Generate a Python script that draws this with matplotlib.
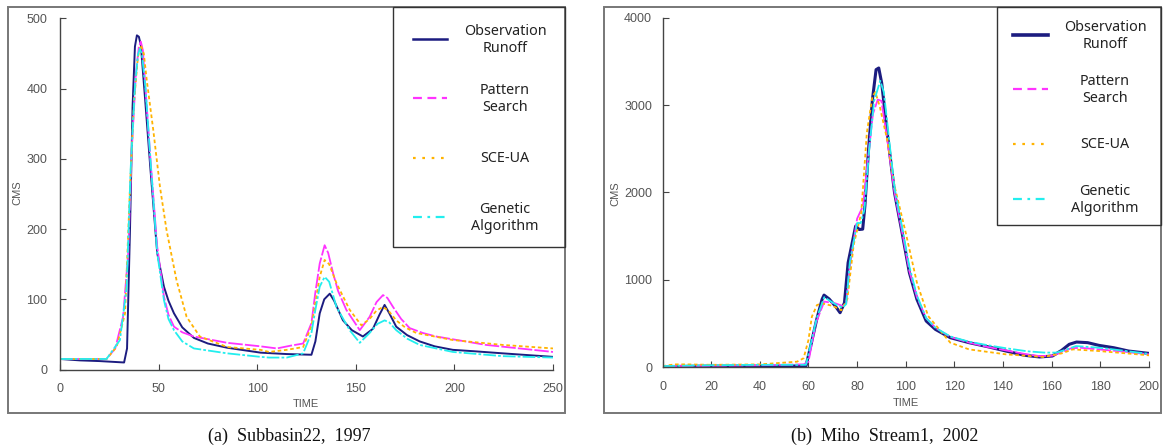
import matplotlib
matplotlib.use("Agg")
import matplotlib.pyplot as plt
import matplotlib.transforms as mtransforms
from matplotlib.patches import Rectangle
from matplotlib.lines import Line2D

W, H = 1163, 448

# ---- (a) Subbasin22, 1997 ----
obs_t_a = [0, 10, 20, 32.5, 34, 35.5, 36.8, 38, 39, 40, 41, 43.3, 45.9, 49.3, 52.7, 55, 57.8, 62, 67.9, 75, 84.8,
           101.7, 115, 127.5, 129.5, 131.7, 134, 136.8, 139, 143.5, 148, 153.6, 158.7, 162, 164.6, 167, 170.5,
           176, 182.4, 190, 199.2, 210, 224.6, 250]
obs_v_a = [15, 13, 12, 10, 30, 200, 374, 460, 476, 474, 462, 380, 284, 166, 118, 98, 80, 60, 45, 37, 31,
           24, 22, 21, 40, 80, 100, 108, 98, 70, 56, 47, 58, 78, 92, 80, 61,
           49, 40, 33, 28, 26, 23, 18]

pat_t_a = [0, 23.6, 28, 32, 34.6, 36.3, 38.5, 40, 41, 42, 43.3, 45.9, 49.3, 52.7, 55, 57.8, 62, 67.9, 84.8, 101.7,
           110, 117, 123.3, 127.5, 129.5, 131.7, 134.2, 136, 138.5, 141, 145.2, 152, 157, 160.5, 163.8, 166,
           168.9, 173, 177.3, 184, 190.8, 216.1, 250]
pat_v_a = [15, 15, 30, 75, 166, 308, 422, 460, 467, 455, 403, 298, 175, 104, 78, 61, 53, 47, 38, 33,
           30, 34, 37, 66, 110, 151, 177, 166, 137, 112, 85, 56, 75, 96, 106, 102,
           89, 72, 59, 52, 47, 35, 25]

sce_t_a = [0, 23.6, 28.7, 33, 35.5, 37.5, 39.5, 41, 42.5, 44, 47.3, 50.7, 54, 59.1, 64.2, 70.9, 84.8, 101.7,
           106, 115, 123.3, 127.5, 131.7, 134.2, 136.5, 140.2, 146.9, 152.8, 157, 160.5, 163.8, 166.5, 170.5,
           175, 180.7, 199.2, 224.6, 250]
sce_v_a = [15, 15, 32, 80, 260, 380, 445, 462, 450, 412, 341, 260, 199, 127, 75, 47, 32, 28,
           25, 28, 32, 62, 132, 156, 150, 123, 85, 63, 72, 84, 89, 84, 70,
           60, 52, 42, 35, 30]

ga_t_a = [0, 23.6, 30.4, 33.8, 35.8, 38, 39.5, 40.5, 41.5, 43.3, 45.9, 49.3, 52.7, 55, 57.8, 62, 67.9, 84.8, 101.7,
          106, 115, 123.3, 127.5, 129.5, 131.7, 134.2, 136.5, 140.2, 146.9, 152, 157, 161, 164.6, 167, 170.5,
          176, 182.4, 199.2, 224.6, 250]
ga_v_a = [15, 15, 42, 117, 284, 403, 448, 457, 450, 403, 298, 166, 99, 72, 56, 40, 30, 23, 18,
          17, 17, 23, 52, 85, 118, 132, 125, 89, 56, 38, 52, 65, 70, 67, 56,
          44, 35, 25, 19, 17]

# ---- (b) Miho Stream1, 2002 ----
obs_t_b = [0, 20, 40, 59, 61, 63.4, 65.6, 66.4, 68.5, 71, 73, 74.8, 76.3, 79.4, 80.9, 82.3, 83.2, 84.7, 86.3,
           87.8, 88.9, 90.1, 92.4, 95.4, 98.5, 101.5, 104.6, 108.4, 112.2, 118.3, 126, 133.6, 141.2,
           148.9, 155, 160.3, 164.1, 167.2, 170.2, 174.8, 179.4, 185.5, 191.6, 200]
obs_v_b = [5, 10, 10, 12, 250, 546, 775, 824, 780, 700, 622, 736, 1195, 1615, 1576, 1580, 1844, 2492, 3065,
           3408, 3427, 3256, 2683, 1996, 1538, 1080, 775, 527, 431, 336, 279, 233, 183,
           134, 115, 126, 191, 260, 286, 279, 248, 221, 183, 156]

pat_t_b = [0, 20, 40, 58, 60, 63, 66.5, 71, 74, 75.5, 77, 80, 82.4, 84.5, 86.5, 88.5, 90, 92.4, 95.4,
           98.5, 101.5, 104.6, 108.4, 112.2, 118.3, 126, 133.6, 141.2, 148.9, 155, 160.3, 164.1, 168,
           172, 180, 190, 200]
pat_v_b = [10, 15, 20, 30, 60, 500, 750, 730, 700, 720, 1150, 1700, 1844, 2400, 2900, 3065, 3050, 2607, 2000,
           1550, 1100, 800, 560, 450, 345, 280, 230, 190, 150, 125, 130, 170, 215,
           220, 200, 175, 145]

sce_t_b = [0, 5, 10, 20, 40, 55.3, 58, 60, 61.4, 63.5, 65.5, 70, 73.5, 76, 78.6, 81.7, 84, 86.3, 87.5,
           89.3, 92.4, 95.4, 100, 104.6, 109.2, 118.3, 126, 141.2, 156.5, 164.1, 168.7, 179.4, 200]
sce_v_b = [10, 30, 30, 25, 30, 61, 100, 309, 577, 710, 730, 700, 650, 780, 1400, 1767, 2683, 3103, 3150,
           2988, 2600, 2073, 1538, 966, 584, 279, 202, 145, 115, 156, 202, 183, 134]

ga_t_b = [0, 20, 40, 59, 63.4, 66.5, 71, 74, 75.5, 77, 80, 81.5, 83, 85, 87, 89.5, 91, 93, 95.4, 98.5,
          101.5, 104.6, 108.4, 112.2, 118.3, 126, 133.6, 141.2, 150, 157, 162, 166, 170, 180, 190, 200]
ga_v_b = [10, 20, 25, 25, 560, 800, 720, 680, 720, 1200, 1650, 1650, 1800, 2500, 3050, 3280, 3150, 2650, 2050, 1600,
          1150, 820, 560, 450, 350, 290, 250, 215, 180, 165, 165, 200, 240, 220, 185, 150]

labels = ["Observation\nRunoff", "Pattern\nSearch", "SCE-UA", "Genetic\nAlgorithm"]
colors = ["#1c1c80", "#ff33ff", "#ffb300", "#22eeee"]
dashes = [None, (8, 1.2), (2, 1.5), (7, 1.2, 1.5, 1.2)]
legend_dashes = [None, (4, 2.5), (1.2, 3), (4, 2.5, 1.2, 2.5)]

tick_color = "#555555"
sans = ["Liberation Sans", "DejaVu Sans"]

fig = plt.figure(figsize=(W / 100, H / 100), dpi=100)
# pixel coords, origin at top-left
px = mtransforms.Affine2D().scale(1 / W, -1 / H).translate(0, 1) + fig.transFigure


def style_axes(ax, xmax, xstep, ymax, ystep, ypad, lw_obs, lw_other, series):
    for (t, v), c, d, i in zip(series, colors, dashes, range(4)):
        lw = lw_obs if i == 0 else lw_other
        line, = ax.plot(t, v, color=c, lw=lw, solid_joinstyle="round", dash_joinstyle="round")
        if d is not None:
            line.set_dashes(d)
    ax.set_xlim(0, xmax)
    ax.set_ylim(0, ymax)
    ax.set_xticks(range(0, xmax + 1, xstep))
    ax.set_yticks(range(0, ymax + 1, ystep))
    for s in ["top", "right"]:
        ax.spines[s].set_visible(False)
    for s in ["left", "bottom"]:
        ax.spines[s].set_color("#444444")
        ax.spines[s].set_linewidth(1.0)
    ax.tick_params(direction="in", length=4, width=0.8, color="#444444",
                   labelcolor=tick_color, labelsize=9)
    ax.tick_params(axis="x", pad=10)
    ax.tick_params(axis="y", pad=ypad)
    for lab in ax.get_xticklabels() + ax.get_yticklabels():
        lab.set_family(sans)


def draw_legend(x0, x1, y0, y1, hx0, hx1, tx, rows, lw_obs):
    fig.add_artist(Rectangle((x0, y0), x1 - x0, y1 - y0, transform=px, fill=False,
                             edgecolor="#333333", lw=1.0))
    for i, (lab, c, d, ry) in enumerate(zip(labels, colors, legend_dashes, rows)):
        ln = Line2D([hx0, hx1], [ry, ry], transform=px, color=c,
                    lw=lw_obs if i == 0 else 1.6)
        if d is not None:
            ln.set_dashes(d)
        fig.add_artist(ln)
        fig.text(tx, ry + 1, lab, transform=px, ha="center", va="center",
                 multialignment="center", fontsize=10.3, color="#222222",
                 family=["Noto Sans", "DejaVu Sans"], linespacing=1.15)


# frames around each panel
for fx0, fx1 in [(8, 565), (604, 1161)]:
    fig.add_artist(Rectangle((fx0, 7.5), fx1 - fx0, 405.5, transform=px, fill=False,
                             edgecolor="#777777", lw=1.4))

# panel (a)
ax1 = fig.add_axes([60 / W, 1 - 369.5 / H, (553 - 60) / W, (369.5 - 18.5) / H])
style_axes(ax1, 250, 50, 500, 100, 9, 1.4, 1.3,
           [(obs_t_a, obs_v_a), (pat_t_a, pat_v_a), (sce_t_a, sce_v_a), (ga_t_a, ga_v_a)])
draw_legend(393, 565, 7.5, 247, 413, 447, 505, [39, 98, 158, 217], 1.8)
fig.text(17, 193, "CMS", transform=px, rotation=90, ha="center", va="center",
         fontsize=8, color=tick_color, family=sans)
fig.text(306, 404, "TIME", transform=px, ha="center", va="center",
         fontsize=8, color=tick_color, family=sans)
fig.text(289, 436, "(a)  Subbasin22,  1997", transform=px, ha="center", va="center",
         fontsize=13, color="#111111", family=["Liberation Serif", "DejaVu Serif"])

# panel (b)
ax2 = fig.add_axes([662.5 / W, 1 - 367 / H, (1149 - 662.5) / W, (367 - 18) / H])
style_axes(ax2, 200, 20, 4000, 1000, 7.5, 2.2, 1.3,
           [(obs_t_b, obs_v_b), (pat_t_b, pat_v_b), (sce_t_b, sce_v_b), (ga_t_b, ga_v_b)])
draw_legend(997, 1161, 7.5, 225, 1013, 1048, 1105, [35, 89, 144, 199], 2.6)
fig.text(615, 194, "CMS", transform=px, rotation=90, ha="center", va="center",
         fontsize=8, color=tick_color, family=sans)
fig.text(906, 403, "TIME", transform=px, ha="center", va="center",
         fontsize=8, color=tick_color, family=sans)
fig.text(885, 436, "(b)  Miho  Stream1,  2002", transform=px, ha="center", va="center",
         fontsize=13, color="#111111", family=["Liberation Serif", "DejaVu Serif"])

plt.savefig("out.png", dpi=100)
plt.close()
